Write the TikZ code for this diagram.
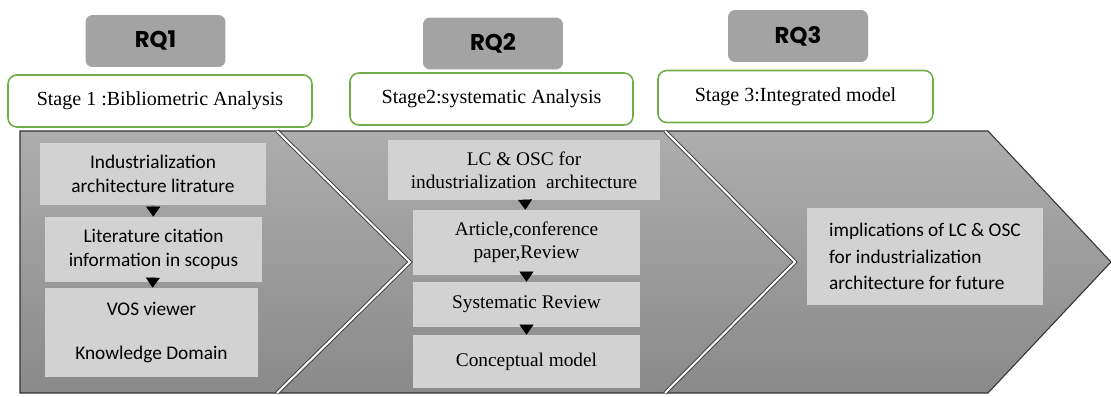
\documentclass[tikz,border=0pt]{standalone}
\usepackage{fontspec}
\setmainfont{Liberation Serif}
\newfontfamily\boxfont{Carlito}
\newfontfamily\rqfont{Poppins}
\usetikzlibrary{arrows.meta}

\definecolor{stagegreen}{HTML}{70AD47}
\definecolor{rqgray}{HTML}{A3A3A3}
\definecolor{itemgray}{HTML}{D2D2D2}

\tikzset{
  rq/.style={rectangle, rounded corners=4pt, fill=rqgray, minimum width=2.8cm, minimum height=1.04cm,
    font=\rqfont\bfseries\fontsize{13}{15}\selectfont},
  stage/.style={rectangle, rounded corners=5pt, draw=stagegreen, line width=0.9pt, fill=white,
    minimum height=1.04cm, font=\fontsize{11.4}{13}\selectfont},
  item/.style={rectangle, fill=itemgray, align=center, inner sep=2pt},
  sansitem/.style={item, font=\boxfont\fontsize{11}{14}\selectfont},
  serifitem/.style={item, font=\fontsize{11}{13}\selectfont},
  flow/.style={-{Triangle[length=2mm,width=2.8mm]}, line width=0.3pt},
  chev/.style={draw=black!80, line width=0.6pt, top color=black!32, bottom color=black!46},
  sep/.style={draw=black!80, double=white, double distance=1.2pt, line width=0.5pt}
}

\begin{document}
\begin{tikzpicture}[x=0.02cm, y=-0.02cm]
    \useasboundingbox (0,0) rectangle (1111,396);

    % band of chevrons
    \path[chev] (20,131) -- (988,131) -- (1111,262) -- (988,393) -- (20,393) -- cycle;
    \draw[sep] (277,131) -- (410,262) -- (277,393);
    \draw[sep] (665,131) -- (795,262) -- (665,393);

    % Stage 1
    \node[rq] (rq1) at (155.5,41) {RQ1};
    \node[stage, minimum width=6.08cm] (st1) at (160,101) {Stage 1 :Bibliometric Analysis};
    \node[sansitem, minimum width=4.52cm, minimum height=1.24cm] (b1) at (153,174)
        {Industrialization\\architecture litrature};
    \node[sansitem, minimum width=4.34cm, minimum height=1.3cm] (b2) at (153.5,249.5)
        {Literature citation\\information in scopus};
    \node[sansitem, minimum width=4.26cm, minimum height=1.78cm] (b3) at (151.5,332.5)
        {VOS viewer\\[11pt]Knowledge Domain};
    \draw[flow] (b1) -- (b2);
    \draw[flow] (b2) -- (b3);

    % Stage 2
    \node[rq] (rq2) at (493,43.5) {RQ2};
    \node[stage, minimum width=5.66cm] (st2) at (491.5,99) {Stage2:systematic Analysis};
    \node[serifitem, minimum width=5.44cm, minimum height=1.2cm] (c1) at (524,170)
        {LC \& OSC for\\industrialization\ \ architecture};
    \node[serifitem, minimum width=4.54cm, minimum height=1.3cm] (c2) at (526.5,242.5)
        {Article,conference\\paper,Review};
    \node[serifitem, minimum width=4.54cm, minimum height=0.9cm] (c3) at (526.5,304.5)
        {Systematic Review};
    \node[serifitem, minimum width=4.54cm, minimum height=1.06cm] (c4) at (526.5,361.5)
        {Conceptual model};
    \draw[flow] (c1) -- (c2);
    \draw[flow] (c2) -- (c3);
    \draw[flow] (c3) -- (c4);

    % Stage 3
    \node[rq] (rq3) at (798,36) {RQ3};
    \node[stage, minimum width=5.5cm] (st3) at (795.5,96.5) {Stage 3:Integrated model};
    \node[sansitem, align=left, font=\boxfont\fontsize{11}{15}\selectfont,
        minimum width=4.72cm, minimum height=1.94cm] (d1) at (925,256.5)
        {implications of LC \& OSC\\for industrialization\\architecture for future};
\end{tikzpicture}
\end{document}
